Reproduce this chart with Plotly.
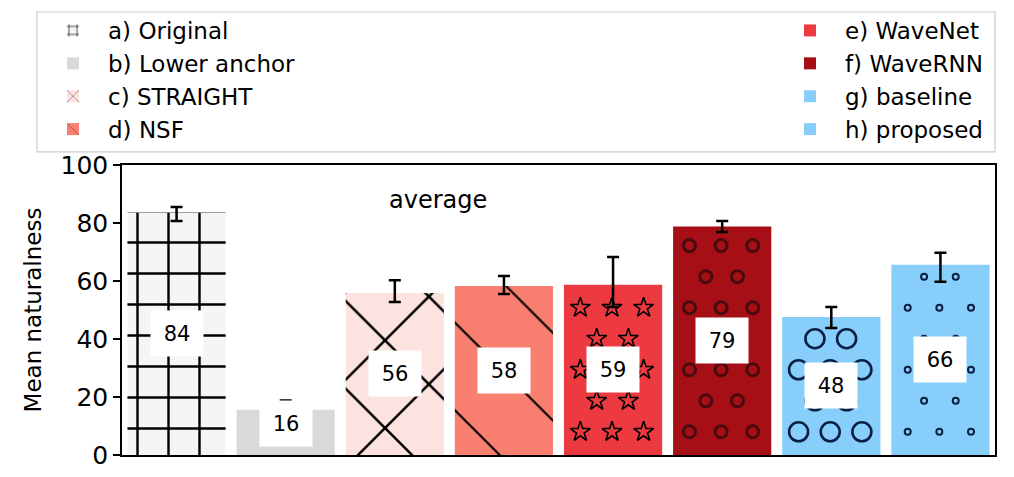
import plotly.graph_objects as go

# systems, scores and error bars
systems = ['a) Original', 'b) Lower anchor', 'c) STRAIGHT', 'd) NSF',
           'e) WaveNet', 'f) WaveRNN', 'g) baseline', 'h) proposed']
scores = [83.6, 15.6, 55.9, 58.3, 58.7, 78.8, 47.6, 65.6]
err_up = [1.9, 3.2, 4.4, 3.4, 9.6, 1.9, 3.4, 4.1]
err_down = [2.9, 3.0, 3.1, 2.8, 7.7, 1.9, 3.8, 5.9]

fills = ['#f5f5f5', '#d9d9d9', '#fde3df', '#f98070', '#ec3a40', '#a50f15', '#87cefa', '#87cefa']
patterns = ['+', '', 'x', '\\', '', '', '', '']
pat_size = [31, 10, 62, 62, 10, 10, 10, 10]
pat_solid = [0.15, 0.1, 0.08, 0.035, 0.1, 0.1, 0.1, 0.1]

# marker "hatches" that plotly has no pattern for
marker_hatch = {
    4: dict(symbol='star-open', size=15, color='black', line=dict(width=1.6)),
    5: dict(symbol='circle-open', size=12, color='#4a0a0e', line=dict(width=3)),
    6: dict(symbol='circle-open', size=19, color='#0b1f44', line=dict(width=2.6)),
    7: dict(symbol='circle-open', size=6, color='#0b1f44', line=dict(width=2)),
}
hatch_dx, hatch_dy, hatch_y0 = 0.29, 10.7, 8.0


def hatch_points(i, top, size):
    # keep the marker inside the bar (bar half width is 0.45, ~109 px per unit)
    limit = 0.45 - size / 2 / 109
    xs, ys = [], []
    k = 0
    y = hatch_y0
    while y < top - 2:
        off = -0.3 if k % 2 == 0 else -0.15
        while off <= limit:
            if off >= -limit:
                xs.append(i + off)
                ys.append(y)
            off += hatch_dx
        k += 1
        y = hatch_y0 + k * hatch_dy
    return xs, ys


fig = go.Figure()

for i, name in enumerate(systems):
    fig.add_trace(go.Bar(
        x=[i], y=[scores[i]], width=0.9, name=name,
        legend='legend' if i < 4 else 'legend2',
        legendgroup=name,
        marker=dict(color=fills[i], line=dict(width=0),
                    pattern=dict(shape=patterns[i], fgcolor='black', bgcolor=fills[i],
                                 fgopacity=1, size=pat_size[i], solidity=pat_solid[i],
                                 fillmode='overlay')),
        error_y=dict(type='data', symmetric=False, array=[err_up[i]], arrayminus=[err_down[i]],
                     color='black', thickness=2.5, width=6),
    ))

for i, m in marker_hatch.items():
    xs, ys = hatch_points(i, scores[i], m['size'])
    fig.add_trace(go.Scatter(x=xs, y=ys, mode='markers', marker=m,
                             showlegend=False, hoverinfo='skip'))

# value boxes
for i, v in enumerate(scores):
    fig.add_annotation(x=i, y=max(v / 2, 11), text=str(round(v)), showarrow=False,
                       font=dict(size=21, color='black', family='DejaVu Sans'),
                       bgcolor='white', width=50, height=43)

fig.add_annotation(x=0.362, xref='paper', y=88, text='average', showarrow=False,
                   font=dict(size=24, color='black', family='DejaVu Sans'))

# legend frame
fig.add_shape(type='rect', xref='paper', yref='paper', x0=-0.0974, x1=1.0, y0=1.045, y1=1.5276,
              line=dict(color='#cccccc', width=1.2), fillcolor='rgba(0,0,0,0)', layer='below')

legend_style = dict(font=dict(size=23, color='black', family='DejaVu Sans'),
                    bgcolor='rgba(0,0,0,0)', itemwidth=60, xanchor='left', yanchor='top',
                    tracegroupgap=0, traceorder='grouped')

fig.update_layout(
    width=1014, height=477,
    # the page body adds an 8px offset, so margins are shifted to compensate
    margin=dict(l=114, r=27, t=157, b=30, autoexpand=False),
    paper_bgcolor='white', plot_bgcolor='white',
    barmode='overlay',
    font=dict(family='DejaVu Sans', color='black'),
    legend=dict(x=-0.0962, y=1.538, **legend_style),
    legend2=dict(x=0.748, y=1.538, **legend_style),
    xaxis=dict(range=[-0.5, 7.5], showticklabels=False, ticks='', showgrid=False, zeroline=False,
               showline=True, linecolor='black', linewidth=1.5, mirror=True),
    yaxis=dict(range=[0, 100], tickvals=[0, 20, 40, 60, 80, 100], ticks='outside', ticklen=7,
               tickwidth=1.5, tickcolor='black', tickfont=dict(size=25), showgrid=False,
               zeroline=False, showline=True, linecolor='black', linewidth=1.5, mirror=True,
               title=dict(text='Mean naturalness', font=dict(size=23), standoff=12)),
)

fig.write_html("out.html")
